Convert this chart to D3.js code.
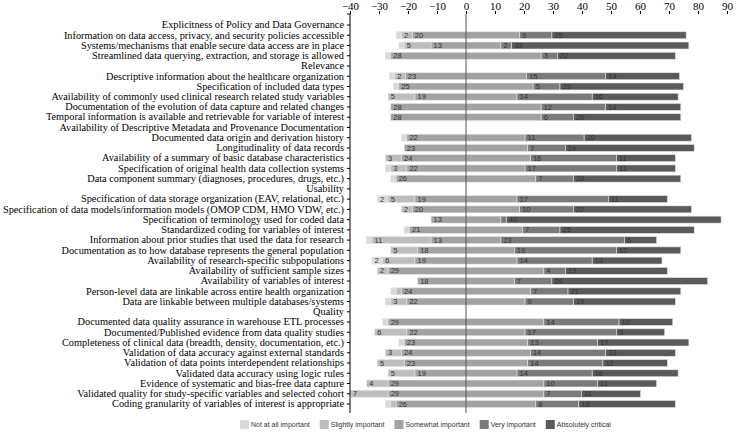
<!DOCTYPE html>
<html>
<head>
<meta charset="utf-8">
<script src="https://cdn.jsdelivr.net/npm/d3@7"></script>
<style>
  body { margin: 0; background: #fff; }
  svg { display: block; }
</style>
</head>
<body>
<div id="chart"></div>
<script>
// rows of the survey, section headers have no counts (null)
const categories = [
  'Explicitness of Policy and Data Governance',
  'Information on data access, privacy, and security policies accessible',
  'Systems/mechanisms that enable secure data access are in place',
  'Streamlined data querying, extraction, and storage is allowed',
  'Relevance',
  'Descriptive information about the healthcare organization',
  'Specification of included data types',
  'Availability of commonly used clinical research related study variables',
  'Documentation of the evolution of data capture and related changes',
  'Temporal information is available and retrievable for variable of interest',
  'Availability of Descriptive Metadata and Provenance Documentation',
  'Documented data origin and derivation history',
  'Longitudinality of data records',
  'Availability of a summary of basic database characteristics',
  'Specification of original health data collection systems',
  'Data component summary (diagnoses, procedures, drugs, etc.)',
  'Usability',
  'Specification of data storage organization (EAV, relational, etc.)',
  'Specification of data models/information models (OMOP CDM, HMO VDW, etc.)',
  'Specification of terminology used for coded data',
  'Standardized coding for variables of interest',
  'Information about prior studies that used the data for research',
  'Documentation as to how database represents the general population',
  'Availability of research-specific subpopulations',
  'Availability of sufficient sample sizes',
  'Availability of variables of interest',
  'Person-level data are linkable across entire health organization',
  'Data are linkable between multiple databases/systems',
  'Quality',
  'Documented data quality assurance in warehouse ETL processes',
  'Documented/Published evidence from data quality studies',
  'Completeness of clinical data (breadth, density, documentation, etc.)',
  'Validation of data accuracy against external standards',
  'Validation of data points interdependent relationships',
  'Validated data accuracy using logic rules',
  'Evidence of systematic and bias-free data capture',
  'Validated quality for study-specific variables and selected cohort',
  'Coding granularity of variables of interest is appropriate'
];

const levels = ['Not at all important', 'Slightly important', 'Somewhat important', 'Very important', 'Absolutely critical'];

const notImportant = [null, 1, 1, 1, null, 1, 1, 0, 0, 0, null, 1, 0, 0, 1, 1, null, 2, 0, 0, 1, 1, 0, 2, 0, 0, 1, 1, null, 1, 0, 1, 0, 0, 0, 0, 0, 1];
const slightlyImportant = [null, 2, 5, 0, null, 2, 0, 5, 0, 0, null, 0, 0, 3, 3, 0, null, 5, 2, 0, 0, 11, 5, 6, 2, 0, 1, 3, null, 0, 6, 0, 3, 5, 5, 4, 7, 1];
const somewhatImportant = [null, 20, 13, 28, null, 23, 25, 19, 28, 28, null, 22, 23, 24, 22, 26, null, 19, 20, 13, 21, 13, 18, 19, 29, 18, 24, 22, null, 29, 22, 23, 24, 23, 19, 29, 29, 26];
const veryImportant = [null, 6, 2, 3, null, 15, 5, 14, 12, 6, null, 11, 7, 16, 17, 7, null, 17, 10, 1, 7, 23, 19, 14, 4, 7, 7, 9, null, 14, 17, 13, 14, 14, 14, 10, 7, 8];
const absolutelyCritical = [null, 25, 33, 22, null, 14, 23, 16, 14, 20, null, 20, 24, 11, 11, 20, null, 11, 22, 40, 25, 6, 12, 13, 19, 29, 21, 19, null, 10, 9, 17, 13, 12, 16, 11, 11, 18];

const xTicks = [-40, -30, -20, -10, 0, 10, 20, 30, 40, 50, 60, 70, 80, 90];

const colours = ['#d9d9d9', '#bdbdbd', '#a2a2a2', '#7a7a7a', '#5a5a5a'];

const width = 736;
const height = 432;
const marginLeft = 350;
const marginRight = 727;
const axisTop = 14;
const axisBottom = 413;

const series = [notImportant, slightlyImportant, somewhatImportant, veryImportant, absolutelyCritical];

// build segments: somewhat important is split evenly around zero
const rows = categories.map((name, i) => {
  const counts = series.map(s => s[i]);
  if (counts[0] === null) return { name, segments: [] };
  const total = d3.sum(counts);
  const pct = counts.map(c => (c / total) * 100);
  let start = -(pct[0] + pct[1] + pct[2] / 2);
  const segments = pct.map((p, k) => {
    const seg = { level: k, x0: start, x1: start + p, count: counts[k] };
    start += p;
    return seg;
  });
  return { name, segments };
});

const svg = d3
  .select('#chart')
  .append('svg')
  .attr('width', width)
  .attr('height', height);

const x = d3.scaleLinear().domain([-40, 90]).range([marginLeft, marginRight]);

const y = d3
  .scaleBand()
  .domain(categories)
  .range([axisTop + 6, 409])
  .paddingInner(0.32)
  .paddingOuter(0.15);

const row = svg
  .append('g')
  .selectAll('g')
  .data(rows)
  .enter()
  .append('g')
  .attr('transform', d => 'translate(0,' + y(d.name) + ')');

row
  .selectAll('rect')
  .data(d => d.segments.filter(s => s.count > 0))
  .enter()
  .append('rect')
  .attr('x', d => x(d.x0))
  .attr('width', d => x(d.x1) - x(d.x0))
  .attr('height', y.bandwidth())
  .attr('fill', d => colours[d.level])
  .attr('stroke', '#e4e4e4')
  .attr('stroke-width', 0.6);

row
  .selectAll('text')
  .data(d => d.segments.filter(s => s.count > 1))
  .enter()
  .append('text')
  .attr('x', d => x(d.x0) + 2.5)
  .attr('y', y.bandwidth() / 2)
  .attr('dy', '0.35em')
  .style('font-family', 'Liberation Sans, Arial, sans-serif')
  .style('font-size', '7.5px')
  .style('fill', '#333')
  .text(d => d.count);

// zero line
svg
  .append('line')
  .attr('x1', x(0))
  .attr('x2', x(0))
  .attr('y1', axisTop)
  .attr('y2', axisBottom)
  .style('stroke', '#555')
  .style('stroke-width', 1);

// top axis: ticks only, no baseline
const xAxis = svg
  .append('g')
  .attr('transform', 'translate(0,' + axisTop + ')')
  .call(d3.axisTop(x).tickValues(xTicks).tickSize(3).tickPadding(1).tickFormat(d3.format('d')));

xAxis.select('.domain').remove();

xAxis.selectAll('text')
  .style('font-family', 'Liberation Serif, Times New Roman, serif')
  .style('font-size', '11px')
  .style('fill', '#000');

// left axis with row labels
const yAxis = svg
  .append('g')
  .attr('transform', 'translate(' + marginLeft + ',0)')
  .call(d3.axisLeft(y).tickSize(3).tickPadding(3).tickSizeOuter(0));

yAxis.select('.domain').attr('d', 'M-3,' + axisTop + 'H0V' + axisBottom);

yAxis.selectAll('text')
  .style('font-family', 'Liberation Serif, Times New Roman, serif')
  .style('font-size', '10.3px')
  .style('fill', '#000');

// legend
const legend = svg.append('g').attr('transform', 'translate(240,420)');
let lx = 0;
levels.forEach((name, k) => {
  const item = legend.append('g').attr('transform', 'translate(' + lx + ',0)');
  item
    .append('rect')
    .attr('width', 9)
    .attr('height', 9)
    .attr('fill', colours[k]);
  const t = item
    .append('text')
    .attr('x', 11)
    .attr('y', 4.5)
    .attr('dy', '0.35em')
    .style('font-family', 'Liberation Sans, Arial, sans-serif')
    .style('font-size', '7px')
    .style('fill', '#333')
    .text(name);
  lx += 11 + t.node().getComputedTextLength() + 10;
});
</script>
</body>
</html>
